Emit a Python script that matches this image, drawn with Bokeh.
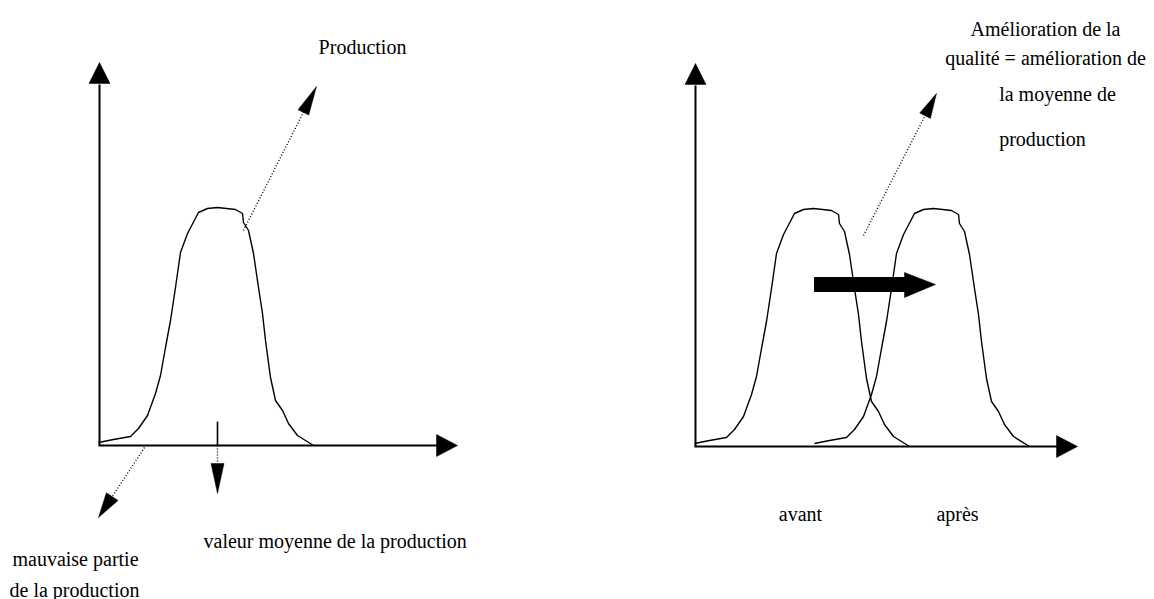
import math
from bokeh.plotting import figure
from bokeh.models import Range1d
from bokeh.core.properties import value
from bokeh.embed import file_html
from bokeh.resources import INLINE

# ---- data: distribution profile (offset along value axis, frequency height) ----
profile_x = [0, 15, 32, 40, 49, 57, 62, 67, 72, 77, 82, 89, 100, 109, 119, 137,
             144, 145, 150, 155, 160, 164, 167, 172, 177, 184, 190, 199, 215]
profile_h = [3, 6, 9, 17, 30, 52, 70, 98, 125, 158, 193, 212, 233, 237, 238, 236,
             232, 223, 215, 192, 158, 132, 105, 68, 45, 35, 22, 10, 0]

# diagram origins (value axis start, baseline)
left_origin = (99, 445)
right_origin = (695, 446)
axis_len_x = [358, 382]     # to arrow tip
axis_len_y = [383, 383]
curve_shift_right = [-1, 119]   # "avant", "après"
mean_value = 118                # position of the mean marker on the left diagram

# labels
label_text = ["Production", "valeur moyenne de la production", "mauvaise partie",
              "de la production", "Amélioration de la", "qualité = amélioration de",
              "la moyenne de", "production", "avant", "après"]
label_x = [362, 203, 75, 74, 1045, 1045, 1057, 1042, 800, 957]
label_y = [46.5, 540, 558, 589, 28.5, 57, 93.5, 138.5, 513, 513]
label_align = ["center", "left", "center", "center", "center", "center",
               "center", "center", "center", "center"]

# pointer arrows (dotted): start, tip
ptr_start_x = [243, 144, 863]
ptr_start_y = [230, 447, 235]
ptr_tip_x = [316, 98, 936]
ptr_tip_y = [86, 517, 93]
ptr_head_len = [29, 25, 25]
ptr_head_w = [12, 14, 12]

W, H = 1154, 599
p = figure(width=W, height=H, output_backend="svg", toolbar_location=None,
           x_range=Range1d(0, W), y_range=Range1d(H, 0),
           min_border=0, outline_line_color=None)
p.axis.visible = False
p.grid.visible = False
p.background_fill_color = "white"
p.border_fill_color = "white"


def head(x0, y0, x1, y1, length, width):
    dx, dy = x1 - x0, y1 - y0
    n = math.hypot(dx, dy)
    ux, uy = dx / n, dy / n
    bx, by = x1 - ux * length, y1 - uy * length
    px, py = -uy * width / 2, ux * width / 2
    return [x1, bx + px, bx - px], [y1, by + py, by - py], (bx, by)


heads_x, heads_y = [], []

# axes
for i, (ox, oy) in enumerate([left_origin, right_origin]):
    # y axis
    tipx, tipy = ox, oy - axis_len_y[i]
    hx, hy, (bx, by) = head(ox, oy, tipx, tipy, 21, 21)
    p.line([ox, bx], [oy, by + 1], line_color="black", line_width=2)
    heads_x.append(hx); heads_y.append(hy)
    # x axis
    tipx, tipy = ox + axis_len_x[i], oy
    hx, hy, (bx, by) = head(ox, oy, tipx, tipy, 21, 22)
    p.line([ox - 1, bx + 1], [oy, oy], line_color="black", line_width=2)
    heads_x.append(hx); heads_y.append(hy)

# curves
def curve(ox, oy):
    return [ox + x for x in profile_x], [oy - h for h in profile_h]

cx, cy = curve(left_origin[0] - 1, left_origin[1])
p.line(cx, cy, line_color="black", line_width=1.4)
for s in curve_shift_right:
    cx, cy = curve(right_origin[0] + s, right_origin[1])
    p.line(cx, cy, line_color="black", line_width=1.4)

# mean marker on left diagram
mx = left_origin[0] + mean_value
p.line([mx, mx], [421, left_origin[1]], line_color="black", line_width=1.6)
p.line([mx, mx], [left_origin[1], 463], line_color="black", line_width=1.4, line_dash="1 2")
hx, hy, _ = head(mx, 445, mx, 493, 30, 13)
heads_x.append(hx); heads_y.append(hy)

# dotted pointers
for i in range(len(ptr_start_x)):
    hx, hy, (bx, by) = head(ptr_start_x[i], ptr_start_y[i], ptr_tip_x[i], ptr_tip_y[i],
                            ptr_head_len[i], ptr_head_w[i])
    p.line([ptr_start_x[i], bx], [ptr_start_y[i], by], line_color="black",
           line_width=1.4, line_dash="1 2")
    heads_x.append(hx); heads_y.append(hy)

# thick shift arrow
p.quad(left=[814], right=[905], top=[277], bottom=[291], fill_color="black", line_color="black")
heads_x.append([935, 904, 904]); heads_y.append([284, 272, 297])

p.patches(heads_x, heads_y, fill_color="black", line_color="black", line_width=0.5)

p.text(x=label_x, y=label_y, text=label_text, text_align=label_align,
       text_baseline="alphabetic", text_font=value("Liberation Serif"),
       text_font_size="20px", text_color="black")

open("out.html", "w").write(file_html(p, INLINE))
